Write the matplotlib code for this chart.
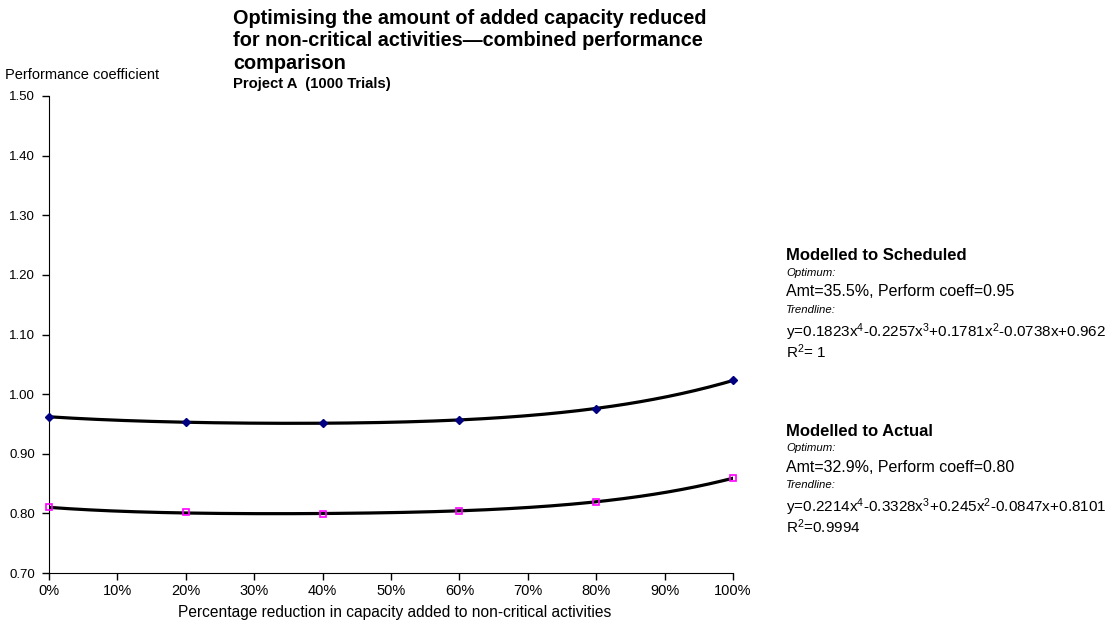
import matplotlib.pyplot as plt
import numpy as np

plt.rcParams['font.family'] = ['Liberation Sans', 'DejaVu Sans']
plt.rcParams['mathtext.fontset'] = 'custom'
plt.rcParams['mathtext.rm'] = 'Liberation Sans'
plt.rcParams['mathtext.it'] = 'Liberation Sans:italic'

# ============== DATA ==============
reduction = [0.0, 0.2, 0.4, 0.6, 0.8, 1.0]
scheduled = [0.962, 0.953, 0.951, 0.957, 0.975, 1.023]
actual = [0.810, 0.802, 0.799, 0.804, 0.819, 0.859]

# trendline coefficients as printed on the chart (x^4 ... x^0)
sched_coef = [0.1823, -0.2257, 0.1781, -0.0738, 0.962]
actual_coef = [0.2214, -0.3328, 0.245, -0.0847, 0.8101]

x_ticks = np.arange(0, 1.01, 0.1)
x_labels = ['0%', '10%', '20%', '30%', '40%', '50%', '60%', '70%', '80%', '90%', '100%']
y_ticks = [0.70, 0.80, 0.90, 1.00, 1.10, 1.20, 1.30, 1.40, 1.50]
# ==================================

fig = plt.figure(figsize=(11.09, 6.22), dpi=100)
ax = fig.add_axes([49 / 1109, 1 - 573 / 622, (733 - 49) / 1109, (573 - 96) / 622])

xs = np.linspace(0, 1, 200)
ax.plot(xs, np.polyval(sched_coef, xs), color='black', lw=2.3, zorder=2)
ax.plot(xs, np.polyval(actual_coef, xs), color='black', lw=2.3, zorder=2)
ax.plot(reduction, scheduled, ls='none', marker='D', ms=4.5, color='#000080', zorder=3, clip_on=False)
ax.plot(reduction, actual, ls='none', marker='s', ms=5, mfc='none', mec='#FF00FF', mew=1.2,
        zorder=3, clip_on=False)

ax.set_xlim(0, 1)
ax.set_ylim(0.70, 1.50)
ax.set_xticks(x_ticks)
ax.set_xticklabels(x_labels, fontsize=10.5)
ax.set_yticks(y_ticks)
ax.set_yticklabels(['%.2f' % v for v in y_ticks], fontsize=9.5)
ax.tick_params(axis='both', direction='out', length=5, width=1, pad=5)
ax.tick_params(axis='x', pad=3)
ax.spines['top'].set_visible(False)
ax.spines['right'].set_visible(False)

fig.text(5 / 1109, 1 - 75 / 622, 'Performance coefficient', fontsize=10.5, va='center', ha='left')
fig.text(395 / 1109, 1 - 613 / 622, 'Percentage reduction in capacity added to non-critical activities',
         fontsize=11.2, va='center', ha='center')

fig.text(233 / 1109, 1 - 9 / 622,
         'Optimising the amount of added capacity reduced\nfor non-critical activities\u2014combined performance\ncomparison',
         fontsize=14.3, fontweight='bold', va='top', ha='left', linespacing=1.22)
fig.text(233 / 1109, 1 - 84 / 622, 'Project A  (1000 Trials)', fontsize=10.7, fontweight='bold',
         va='center', ha='left')

# right-hand annotation blocks
def block(y0, title, optimum, eq, r2):
    tx = 786 / 1109
    fig.text(tx, 1 - y0 / 622, title, fontsize=12, fontweight='bold', va='center')
    fig.text(tx, 1 - (y0 + 17) / 622, 'Optimum:', fontsize=8.2, style='italic', va='center')
    fig.text(tx, 1 - (y0 + 36) / 622, optimum, fontsize=11.5, va='center')
    fig.text(tx, 1 - (y0 + 54) / 622, 'Trendline:', fontsize=8.2, style='italic', va='center')
    fig.text(tx, 1 - (y0 + 76) / 622, eq, fontsize=11, va='center')
    fig.text(tx, 1 - (y0 + 96) / 622, r2, fontsize=11, va='center')

block(256, 'Modelled to Scheduled', 'Amt=35.5%, Perform coeff=0.95',
      r'y=0.1823x$^{4}$-0.2257x$^{3}$+0.1781x$^{2}$-0.0738x+0.962', r'R$^{2}$= 1')
block(431, 'Modelled to Actual', 'Amt=32.9%, Perform coeff=0.80',
      r'y=0.2214x$^{4}$-0.3328x$^{3}$+0.245x$^{2}$-0.0847x+0.8101', r'R$^{2}$=0.9994')

fig.savefig('out.png', dpi=100)
